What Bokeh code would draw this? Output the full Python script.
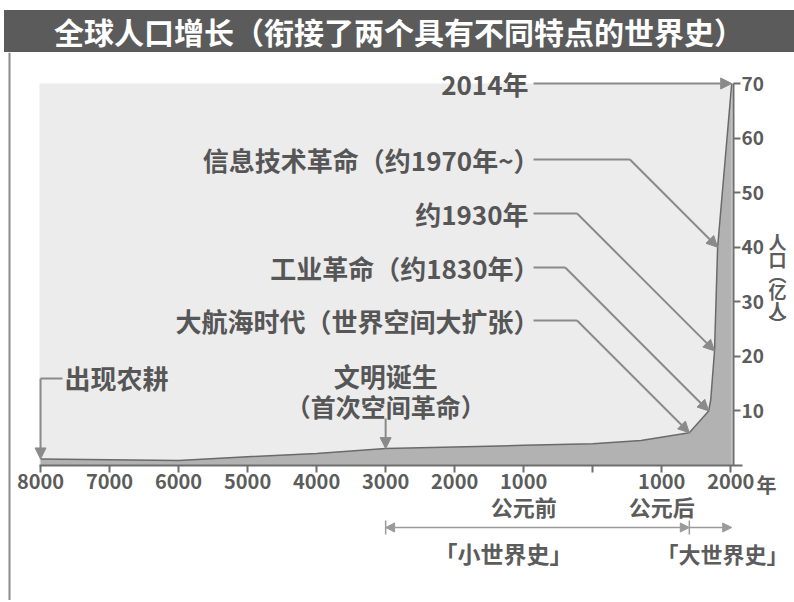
import math
from bokeh.plotting import figure
from bokeh.models import Label, Arrow, NormalHead, Div, FixedTicker, LinearAxis, BoxAnnotation
from bokeh.layouts import column
from bokeh.embed import file_html
from bokeh.resources import INLINE

# ---------------- data ----------------
pop_year = [-8000, -6000, -5000, -4000, -3000, -2000, -1000, 0, 700, 1400, 1680, 1710, 1765, 1810, 2014]
pop_value = [1.2, 0.9, 1.6, 2.2, 3.1, 3.4, 3.7, 4.0, 4.6, 6.0, 10.0, 12.0, 21.0, 40.0, 70.0]

x_ticks = [-8000, -7000, -6000, -5000, -4000, -3000, -2000, -1000, 0, 1000, 2000]
x_tick_labels = ["8000", "7000", "6000", "5000", "4000", "3000", "2000", "1000", "", "1000", "2000"]
y_ticks = [10, 20, 30, 40, 50, 60, 70]
y_tick_labels = ["10", "20", "30", "40", "50", "60", "70"]

title_text = "全球人口增长（衔接了两个具有不同特点的世界史）"
right_events = ["2014年", "信息技术革命（约1970年~）", "约1930年", "工业革命（约1830年）", "大航海时代（世界空间大扩张）"]
right_event_idx = [14, 13, 12, 10, 9]
farming_label = "出现农耕"
farming_idx = 0
civ_labels = ["文明诞生", "（首次空间革命）"]
civ_idx = 4
era_labels = ["「小世界史」", "「大世界史」"]
era_bounds = [(4, 9), (9, 14)]
bc_ad_labels = ["公元前", "公元后"]
bc_ad_ticks = [-1000, 1000]
x_unit = "年"
y_title_chars = ["人", "口", "︵", "亿", "人", "︶"]

# ---------------- layout (page pixels) ----------------
W = 794
TITLE_TOP = 10
TITLE_H = 42
FIG_TOP = TITLE_TOP + TITLE_H
H = 600 - FIG_TOP
FR_L, FR_R, FR_T, FR_B = 39, 733, 83, 465
X0, X1 = -8015, 2040
Y0, Y1 = 0, 70
SX = (FR_R - FR_L) / (X1 - X0)
SY = (FR_B - FR_T) / (Y1 - Y0)


def dx(px):
    return X0 + (px - FR_L) / SX


def dy(py):
    return Y0 + (FR_B - py) / SY


def px_of(x):
    return FR_L + (x - X0) * SX


def py_of(y):
    return FR_B - (y - Y0) * SY


FONT = "Noto Sans CJK SC"
TXT = "#565656"
AX = "#6e6e6e"
ARR = "#8a8a8a"

p = figure(width=W, height=H, x_range=(dx(0), dx(W)), y_range=(dy(FIG_TOP + H), dy(FIG_TOP)),
           output_backend="svg", toolbar_location=None,
           x_axis_location=None, y_axis_location=None,
           min_border=0)
p.margin = 0
p.background_fill_color = "white"
p.border_fill_color = "white"
p.outline_line_color = None
p.grid.visible = False

# plot-area paper tone
p.add_layout(BoxAnnotation(left=X0, right=X1, bottom=Y0, top=Y1, fill_color="#ececec",
                           fill_alpha=1.0, line_color=None, level="underlay"))


def style_axis(a, size):
    a.minor_tick_line_color = None
    a.major_tick_in = 0
    a.major_tick_out = 7
    a.axis_line_color = AX
    a.axis_line_width = 2
    a.major_tick_line_color = AX
    a.major_tick_line_width = 2
    a.major_label_text_font = FONT
    a.major_label_text_font_size = size
    a.major_label_text_font_style = "bold"
    a.major_label_text_color = "#5c5c5c"
    a.major_label_standoff = 1


xa = LinearAxis(fixed_location=Y0, ticker=FixedTicker(ticks=x_ticks),
                major_label_overrides={t: l for t, l in zip(x_ticks, x_tick_labels)},
                bounds=(dx(FR_L), dx(742)))
style_axis(xa, "20px")
p.add_layout(xa, "below")

ya = LinearAxis(fixed_location=X1, ticker=FixedTicker(ticks=y_ticks),
                major_label_overrides={t: l for t, l in zip(y_ticks, y_tick_labels)},
                bounds=(Y0, Y1))
style_axis(ya, "19px")
p.add_layout(ya, "right")

# population area
p.varea(x=pop_year, y1=0, y2=pop_value, fill_color="#b2b2b2")
p.line(pop_year, pop_value, line_color="#6a6a6a", line_width=1.5)


def label(x, y, text, size, align="center", angle=0.0, color=TXT, style="bold"):
    p.add_layout(Label(x=x, y=y, text=text, text_font=FONT, text_font_size=size,
                       text_font_style=style, text_color=color, text_align=align,
                       text_baseline="middle", angle=angle))


def seg(x0, y0, x1, y1, head=None, color=ARR, width=2):
    p.add_layout(Arrow(x_start=x0, y_start=y0, x_end=x1, y_end=y1,
                       start=None, end=head, line_color=color, line_width=width))


def head(size=11, color=ARR):
    return NormalHead(size=size, fill_color=color, line_color=color, line_width=1)


# right-hand event labels with 45-degree leaders
row_py = [83, 159, 213, 267, 320]
TEXT_END, LEAD_START = 528, 533
for txt, idx, ly in zip(right_events, right_event_idx, row_py):
    end_px = TEXT_END + (11 if txt.endswith("）") else 0)
    label(dx(end_px), dy(ly), txt, "26px", align="right")
    tx, ty = pop_year[idx], pop_value[idx]
    tpx, tpy = px_of(tx), py_of(ty)
    drop = tpy - ly
    if drop < 1:
        seg(dx(LEAD_START), dy(ly), tx, ty, head=head())
    else:
        knee_px = tpx - drop
        seg(dx(LEAD_START), dy(ly), dx(knee_px), dy(ly))
        seg(dx(knee_px), dy(ly), tx, ty, head=head())

# farming
fx, fy = pop_year[farming_idx], pop_value[farming_idx]
label(dx(64), dy(377), farming_label, "26px", align="left")
seg(dx(62), dy(378), fx, dy(378))
seg(fx, dy(378), fx, fy, head=head())

# civilisation
cx, cy = pop_year[civ_idx], pop_value[civ_idx]
label(cx, dy(375), civ_labels[0], "26px")
label(cx, dy(405), civ_labels[1], "25px")
seg(cx, dy(418), cx, cy, head=head())

# x unit and BC/AD
label(dx(766), dy(484), x_unit, "20px", color="#5c5c5c")
for t, l in zip(bc_ad_ticks, bc_ad_labels):
    label(t, dy(505), l, "22px", color="#5c5c5c")

# era brackets
BR_Y = 527
BR = "#9a9a9a"
a0, a1 = era_bounds[0]
b0, b1 = era_bounds[1]
p.add_layout(Arrow(x_start=pop_year[a0], y_start=dy(BR_Y), x_end=pop_year[a1], y_end=dy(BR_Y),
                   start=head(9, BR), end=head(9, BR), line_color=BR, line_width=1.5))
seg(pop_year[b0], dy(BR_Y), pop_year[b1], dy(BR_Y), head=head(9, BR), color=BR, width=1.5)
for xb in (pop_year[a0], pop_year[a1]):
    seg(xb, dy(BR_Y - 7), xb, dy(BR_Y + 7), color=BR, width=1.5)
label(dx(503), dy(552), era_labels[0], "23px", color="#5c5c5c")
label(dx(722), dy(552), era_labels[1], "22px", color="#5c5c5c")

# vertical y-axis title
for ch, py in zip(y_title_chars, [240, 258, 273, 290, 308, 322]):
    label(dx(777), dy(py), ch, "18px", color="#5c5c5c")

# box left border
seg(dx(9), dy(FIG_TOP), dx(9), dy(600), color="#8a8a8a", width=2)

title = Div(text=title_text, width=W - 4, height=TITLE_H, margin=(TITLE_TOP, 0, 0, 4),
            styles={"background-color": "#5b5b5b", "color": "white",
                    "font-size": "30px", "font-weight": "bold",
                    "font-family": "'Noto Sans CJK SC'", "text-align": "center",
                    "line-height": f"{TITLE_H}px", "width": f"{W - 4}px",
                    "height": f"{TITLE_H}px"})

layout = column(title, p, spacing=0, margin=0)
open("out.html", "w").write(file_html(layout, INLINE))
